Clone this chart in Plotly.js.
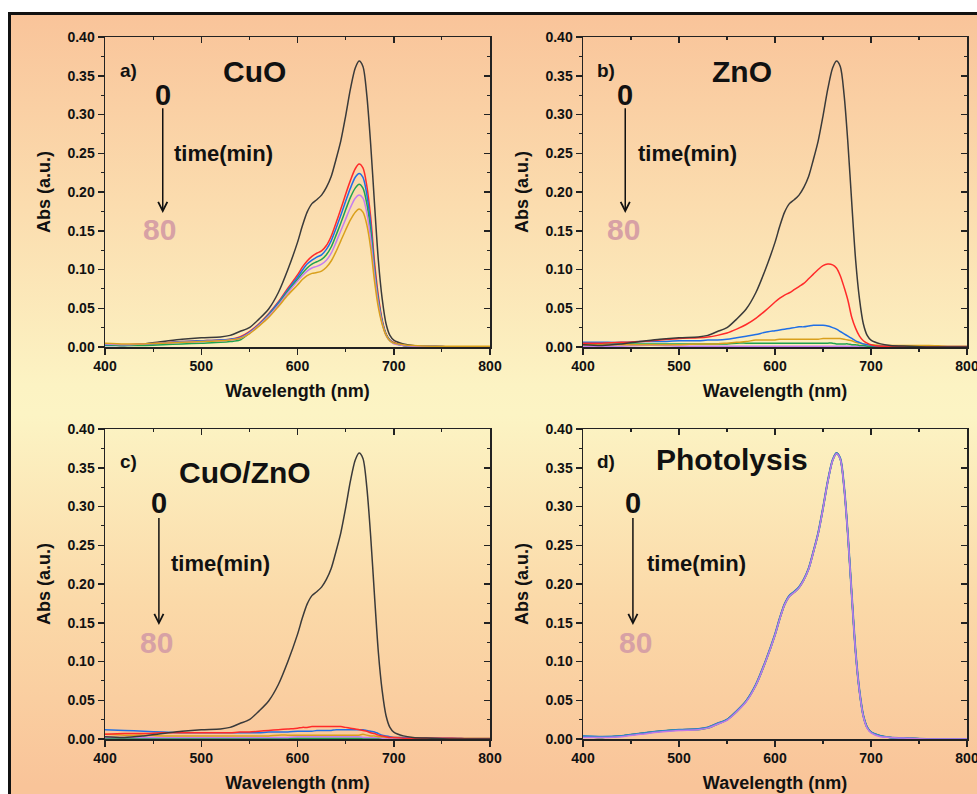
<!DOCTYPE html>
<html>
<head>
<meta charset="utf-8">
<script src="https://cdn.plot.ly/plotly-3.0.1.min.js"></script>
<style>
  html, body { margin: 0; padding: 0; background: #ffffff; overflow: hidden; }
  #frame {
    position: absolute; left: 8px; top: 12px; width: 1000px; height: 820px;
    border: 3px solid #111;
    background: linear-gradient(to bottom, #F9C49A 0px, #FBDCAE 188px, #FCF3C3 370px, #FCF4C4 400px, #FBD9A8 588px, #F9C499 770px);
  }
  #chart { position: absolute; left: 0; top: 0; width: 977px; height: 794px; }
</style>
</head>
<body>
<div id="frame"></div>
<div id="chart"></div>
<script>
// ---------------- data ----------------
const wavelength = [400,420,440,460,480,500,520,530,540,550,560,570,580,590,600,605,610,615,620,625,630,635,640,645,650,655,660,664,668,672,676,680,684,688,692,696,700,710,720,740,760,780,800];

// initial dye spectrum (0 min)
const dye0 = [0.003,0.002,0.004,0.007,0.010,0.012,0.013,0.015,0.020,0.025,0.036,0.049,0.070,0.100,0.135,0.156,0.174,0.185,0.190,0.196,0.206,0.220,0.242,0.266,0.298,0.333,0.360,0.369,0.362,0.325,0.262,0.185,0.112,0.062,0.030,0.015,0.009,0.004,0.002,0.001,0.000,0.000,0.000];

// a) CuO
const cuoRed    = [0.004,0.003,0.004,0.005,0.007,0.008,0.009,0.010,0.013,0.020,0.030,0.043,0.058,0.076,0.093,0.103,0.111,0.117,0.121,0.124,0.131,0.143,0.160,0.178,0.197,0.215,0.230,0.236,0.231,0.208,0.168,0.110,0.066,0.035,0.017,0.009,0.006,0.002,0.001,0.001,0.000,0.000,0.000];
const cuoBlue   = [0.002,0.002,0.003,0.005,0.007,0.008,0.009,0.010,0.012,0.019,0.029,0.042,0.057,0.074,0.090,0.099,0.107,0.112,0.116,0.119,0.126,0.137,0.153,0.170,0.188,0.205,0.219,0.224,0.219,0.197,0.159,0.102,0.061,0.033,0.016,0.009,0.005,0.002,0.001,0.001,0.000,0.000,0.000];
const cuoGreen  = [0.003,0.002,0.002,0.003,0.004,0.005,0.006,0.007,0.009,0.018,0.028,0.041,0.055,0.072,0.087,0.095,0.102,0.107,0.110,0.113,0.119,0.129,0.144,0.160,0.177,0.193,0.205,0.210,0.205,0.185,0.150,0.098,0.059,0.032,0.016,0.008,0.005,0.002,0.001,0.001,0.000,0.000,0.000];
const cuoViolet = [0.004,0.003,0.004,0.005,0.006,0.007,0.008,0.009,0.011,0.018,0.028,0.040,0.054,0.070,0.085,0.092,0.098,0.102,0.104,0.107,0.112,0.121,0.135,0.150,0.165,0.180,0.192,0.196,0.192,0.173,0.140,0.093,0.056,0.031,0.015,0.008,0.004,0.002,0.001,0.001,0.000,0.000,0.000];
const cuoOrange = [0.005,0.004,0.004,0.005,0.006,0.007,0.008,0.009,0.011,0.017,0.027,0.038,0.052,0.067,0.080,0.087,0.092,0.095,0.096,0.098,0.103,0.111,0.123,0.137,0.151,0.164,0.174,0.178,0.174,0.158,0.128,0.085,0.051,0.029,0.015,0.008,0.005,0.003,0.002,0.001,0.001,0.001,0.001];

// b) ZnO
const znoRed    = [0.005,0.005,0.006,0.007,0.009,0.011,0.012,0.013,0.015,0.018,0.023,0.029,0.037,0.047,0.058,0.063,0.067,0.070,0.074,0.078,0.082,0.088,0.094,0.100,0.105,0.107,0.106,0.102,0.092,0.077,0.060,0.038,0.024,0.014,0.008,0.005,0.003,0.001,0.001,0.000,0.000,0.000,0.000];
const znoBlue   = [0.006,0.006,0.006,0.007,0.007,0.008,0.008,0.009,0.009,0.010,0.012,0.014,0.016,0.019,0.021,0.022,0.023,0.024,0.025,0.026,0.026,0.027,0.028,0.028,0.028,0.027,0.025,0.023,0.020,0.017,0.014,0.011,0.008,0.006,0.004,0.003,0.002,0.001,0.001,0.000,0.000,0.000,0.000];
const znoGreen  = [0.004,0.004,0.004,0.004,0.004,0.004,0.004,0.004,0.004,0.004,0.005,0.005,0.005,0.005,0.005,0.005,0.005,0.005,0.005,0.005,0.005,0.005,0.005,0.005,0.005,0.005,0.005,0.004,0.004,0.004,0.004,0.003,0.003,0.002,0.002,0.001,0.001,0.001,0.000,0.000,0.000,0.000,0.000];
const znoViolet = [0.001,0.001,0.001,0.002,0.002,0.001,0.001,0.001,0.001,0.001,0.001,0.001,0.001,0.001,0.001,0.001,0.001,0.001,0.001,0.001,0.001,0.001,0.001,0.001,0.001,0.001,0.001,0.001,0.001,0.001,0.001,0.001,0.001,0.001,0.001,0.001,0.001,0.001,0.001,0.001,0.001,0.001,0.001];
const znoOrange = [0.003,0.003,0.003,0.003,0.003,0.003,0.004,0.004,0.004,0.005,0.006,0.007,0.009,0.009,0.009,0.010,0.010,0.010,0.010,0.010,0.010,0.010,0.010,0.010,0.011,0.011,0.011,0.011,0.011,0.010,0.009,0.008,0.006,0.005,0.004,0.003,0.003,0.002,0.002,0.002,0.002,0.001,0.001];

// c) CuO/ZnO
const czRed    = [0.006,0.007,0.007,0.008,0.008,0.008,0.008,0.008,0.009,0.009,0.010,0.011,0.012,0.013,0.014,0.015,0.015,0.016,0.016,0.016,0.016,0.016,0.016,0.016,0.015,0.014,0.013,0.012,0.011,0.010,0.008,0.007,0.005,0.004,0.003,0.002,0.002,0.001,0.001,0.001,0.001,0.000,0.000];
const czBlue   = [0.012,0.011,0.010,0.009,0.008,0.008,0.008,0.008,0.008,0.008,0.008,0.009,0.009,0.009,0.010,0.010,0.010,0.010,0.011,0.011,0.011,0.011,0.012,0.012,0.012,0.012,0.012,0.012,0.012,0.011,0.010,0.009,0.007,0.005,0.004,0.003,0.002,0.002,0.001,0.001,0.001,0.000,0.000];
const czGreen  = [0.001,0.001,0.001,0.001,0.001,0.001,0.001,0.001,0.001,0.001,0.001,0.001,0.001,0.001,0.001,0.001,0.001,0.001,0.001,0.001,0.001,0.001,0.001,0.001,0.001,0.001,0.001,0.001,0.001,0.001,0.001,0.001,0.001,0.001,0.001,0.000,0.000,0.000,0.000,0.000,0.000,0.000,0.000];
const czViolet = [0.002,0.002,0.002,0.002,0.002,0.002,0.002,0.002,0.002,0.002,0.002,0.002,0.002,0.002,0.003,0.003,0.003,0.003,0.003,0.003,0.003,0.003,0.003,0.003,0.003,0.003,0.003,0.003,0.002,0.002,0.002,0.002,0.002,0.001,0.001,0.001,0.001,0.001,0.001,0.001,0.001,0.001,0.001];
const czOrange = [0.006,0.005,0.005,0.004,0.004,0.004,0.004,0.004,0.004,0.004,0.004,0.004,0.005,0.005,0.005,0.005,0.005,0.005,0.005,0.005,0.005,0.005,0.005,0.005,0.005,0.005,0.005,0.005,0.006,0.005,0.004,0.004,0.003,0.003,0.002,0.002,0.002,0.002,0.001,0.001,0.001,0.001,0.001];

// d) Photolysis
const phBlue   = [0.004,0.003,0.004,0.007,0.010,0.012,0.013,0.015,0.020,0.025,0.036,0.049,0.070,0.100,0.135,0.156,0.174,0.185,0.190,0.196,0.206,0.220,0.242,0.266,0.298,0.333,0.360,0.369,0.362,0.325,0.262,0.185,0.112,0.062,0.030,0.015,0.009,0.004,0.002,0.001,0.000,0.000,0.000];
const phGreen  = [0.003,0.002,0.004,0.007,0.010,0.012,0.012,0.014,0.019,0.025,0.035,0.049,0.069,0.099,0.134,0.155,0.173,0.184,0.189,0.195,0.205,0.219,0.241,0.265,0.297,0.332,0.359,0.368,0.361,0.324,0.261,0.184,0.111,0.061,0.030,0.015,0.009,0.004,0.002,0.001,0.000,0.000,0.000];
const phViolet = [0.002,0.002,0.003,0.006,0.009,0.011,0.012,0.014,0.019,0.024,0.035,0.048,0.069,0.099,0.134,0.155,0.173,0.184,0.189,0.195,0.205,0.219,0.241,0.265,0.297,0.332,0.359,0.368,0.361,0.324,0.261,0.184,0.111,0.061,0.029,0.014,0.008,0.003,0.002,0.001,0.000,0.000,0.000];

const xTickVals = [400,500,600,700,800];
const xTickText = ['400','500','600','700','800'];
const yTickVals = [0,0.05,0.10,0.15,0.20,0.25,0.30,0.35,0.40];
const yTickText = ['0.00','0.05','0.10','0.15','0.20','0.25','0.30','0.35','0.40'];

const panelLetters = ['a)','b)','c)','d)'];
const panelNames = ['CuO','ZnO','CuO/ZnO','Photolysis'];

// ---------------- styling ----------------
const FONT = '"Liberation Sans", Arial, Helvetica, sans-serif';
const C = { black:'#3a3a3a', red:'#ff2a2a', blue:'#1f6fe6', green:'#1fa34f', violet:'#c47ef0', orange:'#d9a01c', phViolet:'#c07ae6', phBlue:'#2f86c8' };

function line(y, color, xa, ya, width) {
  return { x: wavelength, y: y, type:'scatter', mode:'lines', xaxis: xa, yaxis: ya,
           line:{ color: color, width: width || 1.5, shape:'spline', smoothing:0.8 },
           hoverinfo:'skip', showlegend:false };
}

const traces = [
  // a
  line(dye0, C.black, 'x', 'y'),
  line(cuoRed, C.red, 'x', 'y'),
  line(cuoBlue, C.blue, 'x', 'y'),
  line(cuoGreen, C.green, 'x', 'y'),
  line(cuoViolet, C.violet, 'x', 'y'),
  line(cuoOrange, C.orange, 'x', 'y'),
  // b
  line(znoViolet, C.violet, 'x2', 'y2'),
  line(znoGreen, C.green, 'x2', 'y2'),
  line(znoOrange, C.orange, 'x2', 'y2'),
  line(znoBlue, C.blue, 'x2', 'y2'),
  line(znoRed, C.red, 'x2', 'y2'),
  line(dye0, C.black, 'x2', 'y2'),
  // c
  line(czGreen, C.green, 'x3', 'y3'),
  line(czViolet, C.violet, 'x3', 'y3'),
  line(czOrange, C.orange, 'x3', 'y3'),
  line(czBlue, C.blue, 'x3', 'y3'),
  line(czRed, C.red, 'x3', 'y3'),
  line(dye0, C.black, 'x3', 'y3'),
  // d
  line(dye0, C.black, 'x4', 'y4'),
  line(phGreen, C.green, 'x4', 'y4'),
  line(phBlue, C.phBlue, 'x4', 'y4', 2.0),
  line(phViolet, C.phViolet, 'x4', 'y4', 1.5)
];
// empty traces so the mirror axes (ticks pointing the other way) get drawn
for (let i = 5; i <= 8; i++) {
  traces.push({ x:[], y:[], type:'scatter', mode:'lines', xaxis:'x'+i, yaxis:'y'+i, hoverinfo:'skip', showlegend:false });
}

const tickFont = { family: FONT, size: 14, color:'#111', weight: 'bold' };
const titleFont = { family: FONT, size: 18, color:'#111', weight: 'bold' };
const AX = '#222';

function xAxis(domain, anchor) {
  return { domain: domain, anchor: anchor, range:[400,800], tickmode:'array', tickvals:xTickVals, ticktext:xTickText,
    ticks:'outside', ticklen:6, tickwidth:1.5, tickcolor:AX, ticklabeloverflow:'allow',
    minor:{ tickmode:'array', tickvals:[450,550,650,750], ticks:'outside', ticklen:3, tickwidth:1.2, tickcolor:AX },
    showline:true, linecolor:AX, linewidth:1.5, showgrid:false, zeroline:false, fixedrange:true,
    tickfont: tickFont, title:{ text:'Wavelength (nm)', font: titleFont, standoff: 11 } };
}
function yAxis(domain, anchor) {
  return { domain: domain, anchor: anchor, range:[0,0.40], tickmode:'array', tickvals:yTickVals, ticktext:yTickText,
    ticks:'outside', ticklen:6, tickwidth:1.5, tickcolor:AX, ticklabeloverflow:'allow',
    minor:{ tickmode:'array', tickvals:[0.025,0.075,0.125,0.175,0.225,0.275,0.325,0.375], ticks:'outside', ticklen:3, tickwidth:1.2, tickcolor:AX },
    showline:true, linecolor:AX, linewidth:1.5, showgrid:false, zeroline:false, fixedrange:true,
    tickfont: tickFont, title:{ text:'Abs (a.u.)', font: titleFont, standoff: 12 } };
}
function xMirror(over, anchor) {
  return { overlaying: over, anchor: anchor, side:'top', range:[400,800], tickmode:'array', tickvals:xTickVals,
    ticks:'inside', ticklen:6, tickwidth:1.5, tickcolor:AX, showticklabels:false,
    minor:{ tickmode:'array', tickvals:[450,550,650,750], ticks:'inside', ticklen:3, tickwidth:1.2, tickcolor:AX },
    showline:true, linecolor:AX, linewidth:1.5, showgrid:false, zeroline:false, fixedrange:true };
}
function yMirror(over, anchor) {
  return { overlaying: over, anchor: anchor, side:'right', range:[0,0.40], tickmode:'array', tickvals:yTickVals,
    ticks:'inside', ticklen:6, tickwidth:1.5, tickcolor:AX, showticklabels:false,
    minor:{ tickmode:'array', tickvals:[0.025,0.075,0.125,0.175,0.225,0.275,0.325,0.375], ticks:'inside', ticklen:3, tickwidth:1.2, tickcolor:AX },
    showline:true, linecolor:AX, linewidth:1.5, showgrid:false, zeroline:false, fixedrange:true };
}

const W = 977, H = 794;
const colL = [105/W, 490/W], colR = [583/W, 967/W];
const rowT = [(H-347)/H, (H-37)/H], rowB = [(H-739)/H, (H-429)/H];

// annotation positions per panel (data coordinates)
const panels = [
  { xr:'x',  yr:'y',  letter:[413,0.357], name:[555,0.355], zero:[460,0.325], arrow:[460,0.310,0.173], time:[470,0.250], eighty:[457,0.152] },
  { xr:'x2', yr:'y2', letter:[413,0.357], name:[566,0.355], zero:[444,0.325], arrow:[444,0.310,0.173], time:[455,0.250], eighty:[442,0.152] },
  { xr:'x3', yr:'y3', letter:[413,0.358], name:[545,0.344], zero:[456,0.304], arrow:[456,0.287,0.147], time:[467,0.227], eighty:[453,0.124] },
  { xr:'x4', yr:'y4', letter:[413,0.358], name:[555,0.360], zero:[452,0.304], arrow:[452,0.287,0.147], time:[465,0.227], eighty:[455,0.124] }
];
const annotations = [];
panels.forEach((p, i) => {
  annotations.push({ xref:p.xr, yref:p.yr, x:p.letter[0], y:p.letter[1], xanchor:'left', yanchor:'middle', showarrow:false,
    text: panelLetters[i], font:{ family:FONT, size:19, color:'#111', weight:'bold' } });
  annotations.push({ xref:p.xr, yref:p.yr, x:p.name[0], y:p.name[1], xanchor:'center', yanchor:'middle', showarrow:false,
    text: panelNames[i], font:{ family:FONT, size:30, color:'#111', weight:'bold' } });
  annotations.push({ xref:p.xr, yref:p.yr, x:p.zero[0], y:p.zero[1], xanchor:'center', yanchor:'middle', showarrow:false,
    text: '0', font:{ family:FONT, size:29, color:'#111', weight:'bold' } });
  annotations.push({ xref:p.xr, yref:p.yr, x:p.arrow[0], y:p.arrow[2], axref:p.xr, ayref:p.yr, ax:p.arrow[0], ay:p.arrow[1],
    text:'', showarrow:true, arrowhead:5, arrowsize:1.2, arrowwidth:1.5, arrowcolor:'#111', standoff:0, startstandoff:0 });
  annotations.push({ xref:p.xr, yref:p.yr, x:p.time[0], y:p.time[1], xanchor:'left', yanchor:'middle', showarrow:false,
    text: 'time(min)', font:{ family:FONT, size:22, color:'#111', weight:'bold' } });
  annotations.push({ xref:p.xr, yref:p.yr, x:p.eighty[0], y:p.eighty[1], xanchor:'center', yanchor:'middle', showarrow:false,
    text: '80', font:{ family:FONT, size:30, color:'#d7a1a5', weight:'bold' } });
});

const layout = {
  width: W, height: H,
  margin:{ l:0, r:0, t:0, b:0 },
  paper_bgcolor:'rgba(0,0,0,0)', plot_bgcolor:'rgba(0,0,0,0)',
  showlegend:false,
  font:{ family: FONT, color:'#111' },
  xaxis:  xAxis(colL, 'y'),  yaxis:  yAxis(rowT, 'x'),
  xaxis2: xAxis(colR, 'y2'), yaxis2: yAxis(rowT, 'x2'),
  xaxis3: xAxis(colL, 'y3'), yaxis3: yAxis(rowB, 'x3'),
  xaxis4: xAxis(colR, 'y4'), yaxis4: yAxis(rowB, 'x4'),
  xaxis5: xMirror('x', 'y'),   yaxis5: yMirror('y', 'x'),
  xaxis6: xMirror('x2', 'y2'), yaxis6: yMirror('y2', 'x2'),
  xaxis7: xMirror('x3', 'y3'), yaxis7: yMirror('y3', 'x3'),
  xaxis8: xMirror('x4', 'y4'), yaxis8: yMirror('y4', 'x4'),
  annotations: annotations
};

Plotly.newPlot('chart', traces, layout, { staticPlot:true, displayModeBar:false });
</script>
</body>
</html>
